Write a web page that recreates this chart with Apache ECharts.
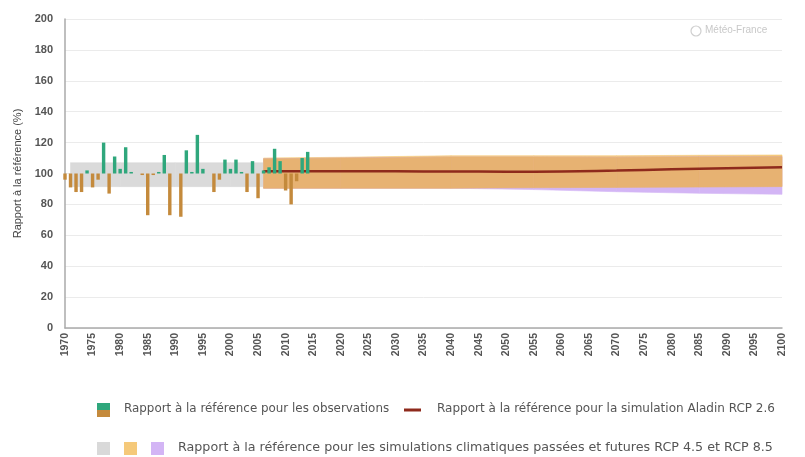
<!DOCTYPE html>
<html><head><meta charset="utf-8">
<script src="https://cdn.jsdelivr.net/npm/echarts@6/dist/echarts.min.js"></script>
<style>html,body{margin:0;padding:0;background:#fff}#c{width:805px;height:457px}</style>
</head><body><div id="c"></div>
<script>
// Observations (ratio to reference, %)
const obsYears = [1970,1971,1972,1973,1974,1975,1976,1977,1978,1979,1980,1981,1982,1983,1984,1985,1986,1987,1988,1989,1990,1991,1992,1993,1994,1995,1996,1997,1998,1999,2000,2001,2002,2003,2004,2005,2006,2007,2008,2009,2010,2011,2012,2013,2014];
const obsValues = [96,91,88,88,102,91,96,120,87,111,103,117,101,100,99,73,99,101,112,73,100,72,115,101,125,103,100,88,96,109,103,109,101,88,108,84,102,104,116,108,89,80,95,110,114];

// Aladin RCP 2.6 simulation
const aladinYears = [2006,2010,2020,2030,2040,2050,2060,2070,2080,2090,2100];
const aladinValues = [101.5,101.4,101.5,101.4,101.3,101.2,101.3,101.9,102.7,103.4,104.0];

// Past simulations band (grey)
const pastYears = [1971,1980,1990,2000,2006];
const pastLow = [91.5,91.5,91.5,91.5,91.5];
const pastHigh = [107,107,107,107,107];

// RCP 4.5 band (yellow) and RCP 8.5 band (purple)
const futYears = [2006,2020,2040,2055,2070,2085,2100];
const rcp45Low = [90.5,90.5,90.5,90.8,91,91.2,91.5];
const rcp45High = [110,110.5,111.5,111.5,111.5,111.8,112];
const rcp85Low = [90.5,90.5,90.5,89.6,88.2,87.2,86.5];
const rcp85High = [109.5,110,110.6,110.6,110.5,110.8,111];

const xTicks = {min:1970, max:2100, interval:5};
const yTicks = {min:0, max:200, interval:20};

const GREEN = '#2fa77c', BROWN = '#c48a3c', RED = '#8e2a1c';

// band drawn as polygons between consecutive sample years
function band(name, years, low, high, color, z) {
  const data = [];
  for (let i = 0; i < years.length - 1; i++) {
    data.push([years[i], low[i], high[i], years[i+1], low[i+1], high[i+1]]);
  }
  return {name:name, type:'custom', silent:true, z:z,
    data:data, encode:{x:[0,3], y:[1,2,4,5]},
    renderItem:function(params, api){
      const a = api.coord([api.value(0), api.value(1)]);
      const b = api.coord([api.value(0), api.value(2)]);
      const c = api.coord([api.value(3), api.value(5)]);
      const d = api.coord([api.value(3), api.value(4)]);
      return {type:'polygon', shape:{points:[a,b,c,d]},
        style:{fill:color, stroke:color, lineWidth:0.6}};
    }};
}
const ovLow = futYears.map((y,i)=>Math.max(rcp45Low[i], rcp85Low[i]));
const ovHigh = futYears.map((y,i)=>Math.min(rcp45High[i], rcp85High[i]));

const chart = echarts.init(document.getElementById('c'), null, {renderer:'canvas'});
const FONT = '"Liberation Sans", Arial, sans-serif';
const LFONT = '"DejaVu Sans", "Open Sans", sans-serif';
chart.setOption({
  animation:false,
  grid:{left:65, right:23, top:19, bottom:129},
  xAxis:{type:'value', min:xTicks.min, max:xTicks.max, interval:xTicks.interval,
    axisLine:{show:true, lineStyle:{color:'#aaa', width:1.5}},
    axisTick:{show:false}, splitLine:{show:false},
    axisLabel:{rotate:90, fontSize:10.5, color:'#555', fontFamily:FONT, fontWeight:'bold', margin:5,
      formatter:v=>String(v)}},
  yAxis:{type:'value', min:yTicks.min, max:yTicks.max, interval:yTicks.interval,
    name:'Rapport à la référence (%)', nameLocation:'middle', nameGap:42, nameRotate:90,
    nameTextStyle:{fontSize:11, color:'#444', fontFamily:FONT},
    axisLine:{show:true, lineStyle:{color:'#aaa', width:1.5}},
    axisTick:{show:false},
    splitLine:{lineStyle:{color:'#ebebeb'}},
    axisLabel:{fontSize:11, color:'#555', fontFamily:FONT, fontWeight:'bold', margin:12}},
  series:[
    band('past', pastYears, pastLow, pastHigh, '#dadada', 1),
    band('rcp45', futYears, rcp45Low, rcp45High, '#f5c97a', 1),
    band('rcp85', futYears, rcp85Low, rcp85High, '#d3b5f5', 1),
    band('overlap', futYears, ovLow, ovHigh, '#e7b272', 1),
    {name:'aladin', type:'line', symbol:'none', smooth:true, z:3,
     lineStyle:{color:RED, width:2.5},
     data: aladinYears.map((y,i)=>[y, aladinValues[i]])},
    {name:'obs', type:'custom', z:4,
     data: obsYears.map((y,i)=>[y, obsValues[i]]),
     encode:{x:0, y:1},
     renderItem:function(params, api){
       const x = api.value(0), v = api.value(1);
       const p0 = api.coord([x, 100]), p1 = api.coord([x, v]);
       const w = api.size([1,0])[0]*0.62;
       return {type:'rect', shape:{x:p0[0]-w/2, y:Math.min(p0[1],p1[1]), width:w, height:Math.abs(p1[1]-p0[1])},
         style:{fill: v>=100 ? GREEN : BROWN}};
     }}
  ],
  graphic:[
    {type:'circle', shape:{cx:696, cy:31, r:5}, style:{fill:'none', stroke:'#cfcfcf', lineWidth:1.2}},
    {type:'text', left:705, top:25, style:{text:'Météo-France', fontSize:10, fill:'#c8c8c8', fontFamily:FONT}},
    // legend row 1
    {type:'rect', shape:{x:97, y:403, width:13, height:7}, style:{fill:GREEN}},
    {type:'rect', shape:{x:97, y:410, width:13, height:7}, style:{fill:BROWN}},
    {type:'text', left:124, top:403, style:{text:'Rapport à la référence pour les observations', fontSize:11.9, fill:'#555', fontFamily:LFONT}},
    {type:'line', shape:{x1:404, y1:410, x2:421, y2:410}, style:{stroke:RED, lineWidth:3}},
    {type:'text', left:437, top:403, style:{text:'Rapport à la référence pour la simulation Aladin RCP 2.6', fontSize:12, fill:'#555', fontFamily:LFONT}},
    // legend row 2
    {type:'rect', shape:{x:97, y:442, width:13, height:13}, style:{fill:'#d9d9d9'}},
    {type:'rect', shape:{x:124, y:442, width:13, height:13}, style:{fill:'#f5c97a'}},
    {type:'rect', shape:{x:151, y:442, width:13, height:13}, style:{fill:'#d3b5f5'}},
    {type:'text', left:178, top:441, style:{text:'Rapport à la référence pour les simulations climatiques passées et futures RCP 4.5 et RCP 8.5', fontSize:12.7, fill:'#555', fontFamily:LFONT}}
  ]
});
</script></body></html>
